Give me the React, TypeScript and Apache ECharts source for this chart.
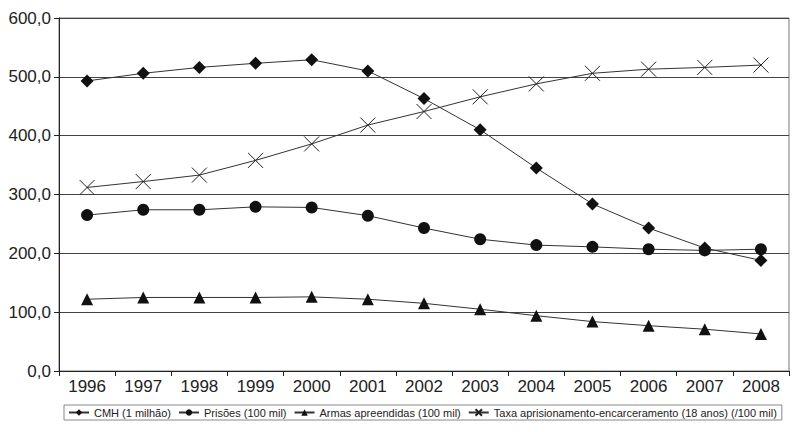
import React, { useEffect, useRef } from "react";
import * as echarts from "echarts";

const years = ["1996", "1997", "1998", "1999", "2000", "2001", "2002", "2003", "2004", "2005", "2006", "2007", "2008"];
const cmh = [493, 506, 516, 523, 529, 510, 463, 410, 345, 284, 243, 209, 188];
const prisoes = [265, 274, 274, 279, 278, 264, 243, 224, 214, 211, 207, 205, 207];
const armas = [122, 125, 125, 125, 126, 122, 115, 105, 94, 84, 77, 71, 63];
const taxa = [312, 322, 333, 358, 386, 418, 441, 466, 488, 506, 513, 516, 520];
const seriesNames = [
  "CMH (1 milhão)",
  "Prisões (100 mil)",
  "Armas apreendidas (100 mil)",
  "Taxa aprisionamento-encarceramento (18 anos) (/100 mil)",
];

export default function App() {
  const ref = useRef<HTMLDivElement>(null);
  useEffect(() => {
    if (!ref.current) return;
    const chart = echarts.init(ref.current, null, { renderer: "svg" });
    const font = "'Liberation Sans', Arial, sans-serif";
    const mk = (name: string, data: number[], symbol: string, size: number, cross = false) => ({
      name,
      type: "line",
      data,
      symbol,
      symbolSize: size,
      showSymbol: true,
      lineStyle: { color: "#333", width: 1 },
      itemStyle: cross
        ? { color: "rgba(0,0,0,0)", borderColor: "#222", borderWidth: 1 }
        : { color: "#111", borderWidth: 0 },
      emphasis: { disabled: true },
    });
    chart.setOption({
      animation: false,
      backgroundColor: "#fff",
      grid: {
        left: 59,
        right: 11,
        top: 18,
        bottom: 61,
        show: true,
        borderColor: "#777",
        borderWidth: 1,
        backgroundColor: "transparent",
      },
      legend: {
        data: seriesNames,
        bottom: 12,
        left: 64,
        width: 734,
        itemWidth: 20,
        itemHeight: 8,
        itemGap: 7,
        padding: [2, 5, 2, 4],
        borderColor: "#888",
        borderWidth: 1,
        borderRadius: 0,
        textStyle: { fontFamily: font, fontSize: 11, color: "#222" },
      },
      xAxis: {
        type: "category",
        data: years,
        boundaryGap: true,
        axisLine: { lineStyle: { color: "#222", width: 1 } },
        axisTick: { show: true, length: 5, lineStyle: { color: "#222" } },
        axisLabel: { fontFamily: font, fontSize: 17, color: "#222", margin: 7 },
      },
      yAxis: {
        type: "value",
        min: 0,
        max: 600,
        interval: 100,
        axisLine: { show: true, lineStyle: { color: "#222", width: 1 } },
        axisTick: { show: true, length: 5, lineStyle: { color: "#222" } },
        splitLine: { lineStyle: { color: "#444", width: 1 } },
        axisLabel: {
          fontFamily: font,
          fontSize: 17,
          color: "#222",
          margin: 8,
          formatter: (v: number) => v.toFixed(1).replace(".", ","),
        },
      },
      series: [
        mk(seriesNames[0], cmh, "diamond", 13),
        mk(seriesNames[1], prisoes, "circle", 12),
        mk(seriesNames[2], armas, "triangle", 12),
        mk(seriesNames[3], taxa, "path://M0,0L10,10M10,0L0,10", 15, true),
      ],
    });
    return () => chart.dispose();
  }, []);
  return <div ref={ref} style={{ width: 800, height: 432, margin: -8 }} />;
}
